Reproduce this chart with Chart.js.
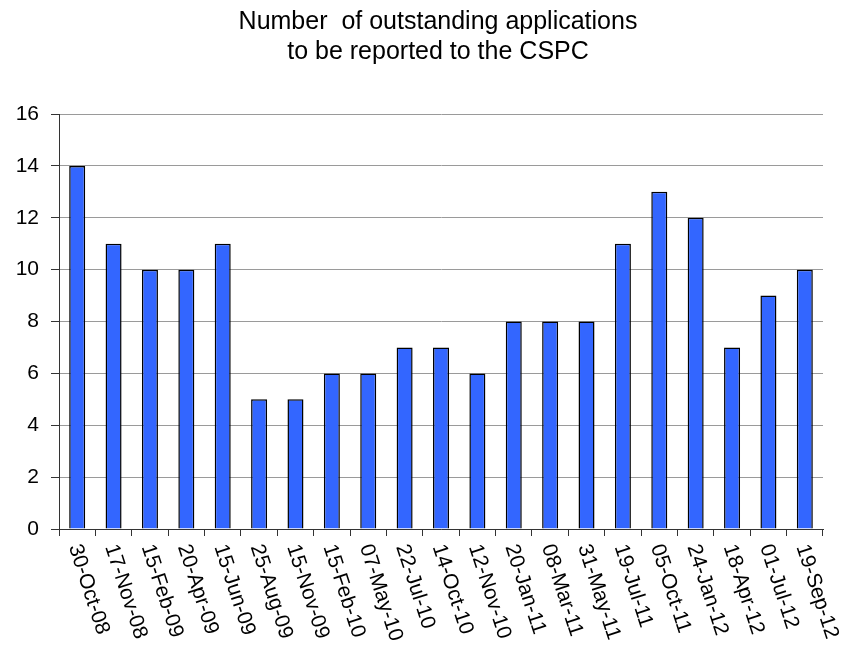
<!DOCTYPE html>
<html>
<head>
<meta charset="utf-8">
<script src="https://cdn.jsdelivr.net/npm/chart.js@4"></script>
<style>
  html, body { margin: 0; padding: 0; background: #fff; }
  canvas { display: block; }
</style>
</head>
<body>
<canvas id="chart" width="845" height="672"></canvas>
<script>
// Данные
const dates = [
    '30-Oct-08', '17-Nov-08', '15-Feb-09', '20-Apr-09', '15-Jun-09', '25-Aug-09', '15-Nov-09',
    '15-Feb-10', '07-May-10', '22-Jul-10', '14-Oct-10', '12-Nov-10', '20-Jan-11', '08-Mar-11',
    '31-May-11', '19-Jul-11', '05-Oct-11', '24-Jan-12', '18-Apr-12', '01-Jul-12', '19-Sep-12'
];
const outstanding = [14, 11, 10, 10, 11, 5, 5, 6, 6, 7, 7, 6, 8, 8, 8, 11, 13, 12, 7, 9, 10];
const yTicks = [0, 2, 4, 6, 8, 10, 12, 14, 16];
const titleLines = ['Number  of outstanding applications', 'to be reported to the CSPC'];

// Заголовок (центр смещён вправо, как на исходнике)
const titleText = {
    id: 'titleText',
    afterDraw(chart) {
        const ctx = chart.ctx;
        ctx.save();
        ctx.font = '25px "Liberation Sans", Arial, sans-serif';
        ctx.fillStyle = '#000';
        ctx.textAlign = 'center';
        ctx.textBaseline = 'middle';
        titleLines.forEach((line, i) => {
            ctx.fillText(line, 438, 22 + i * 30);
        });
        ctx.restore();
    }
};

// Подписи оси X, повёрнутые по часовой стрелке
const rotatedLabels = {
    id: 'rotatedLabels',
    afterDraw(chart) {
        const ctx = chart.ctx;
        const xs = chart.scales.x;
        ctx.save();
        ctx.font = '21px "Liberation Sans", Arial, sans-serif';
        ctx.fillStyle = '#000';
        ctx.textAlign = 'left';
        ctx.textBaseline = 'middle';
        dates.forEach((label, i) => {
            const x = xs.getPixelForTick(i);
            ctx.save();
            ctx.translate(x - 3, xs.top + 16);
            ctx.rotate(72 * Math.PI / 180);
            ctx.fillText(label, 0, 0);
            ctx.restore();
        });
        ctx.restore();
    }
};

const ctx = document.getElementById('chart').getContext('2d');
const chart = new Chart(ctx, {
    type: 'bar',
    data: {
        labels: dates,
        datasets: [{
            data: outstanding,
            backgroundColor: '#3366ff',
            borderColor: '#000',
            borderWidth: 1.5,
            categoryPercentage: 1,
            barPercentage: 0.44
        }]
    },
    options: {
        responsive: false,
        animation: false,
        layout: { padding: { left: 0, right: 22, top: 114, bottom: 0 } },
        plugins: {
            legend: { display: false },
            tooltip: { enabled: false },
            title: { display: false }
        },
        scales: {
            x: {
                grid: { drawOnChartArea: false, drawTicks: true, tickLength: 7, tickColor: '#333' },
                border: { color: '#333', width: 1 },
                ticks: { display: false },
                afterFit: s => { s.height = 143; }
            },
            y: {
                min: 0,
                max: 16,
                afterBuildTicks: s => { s.ticks = yTicks.map(v => ({ value: v })); },
                grid: { color: '#9a9a9a', lineWidth: 1, tickLength: 8, tickColor: '#333' },
                border: { color: '#333', width: 1 },
                ticks: {
                    color: '#000',
                    padding: 12,
                    font: { family: '"Liberation Sans", Arial, sans-serif', size: 21 }
                },
                afterFit: s => { s.width = 59; }
            }
        }
    },
    plugins: [titleText, rotatedLabels]
});
</script>
</body>
</html>
